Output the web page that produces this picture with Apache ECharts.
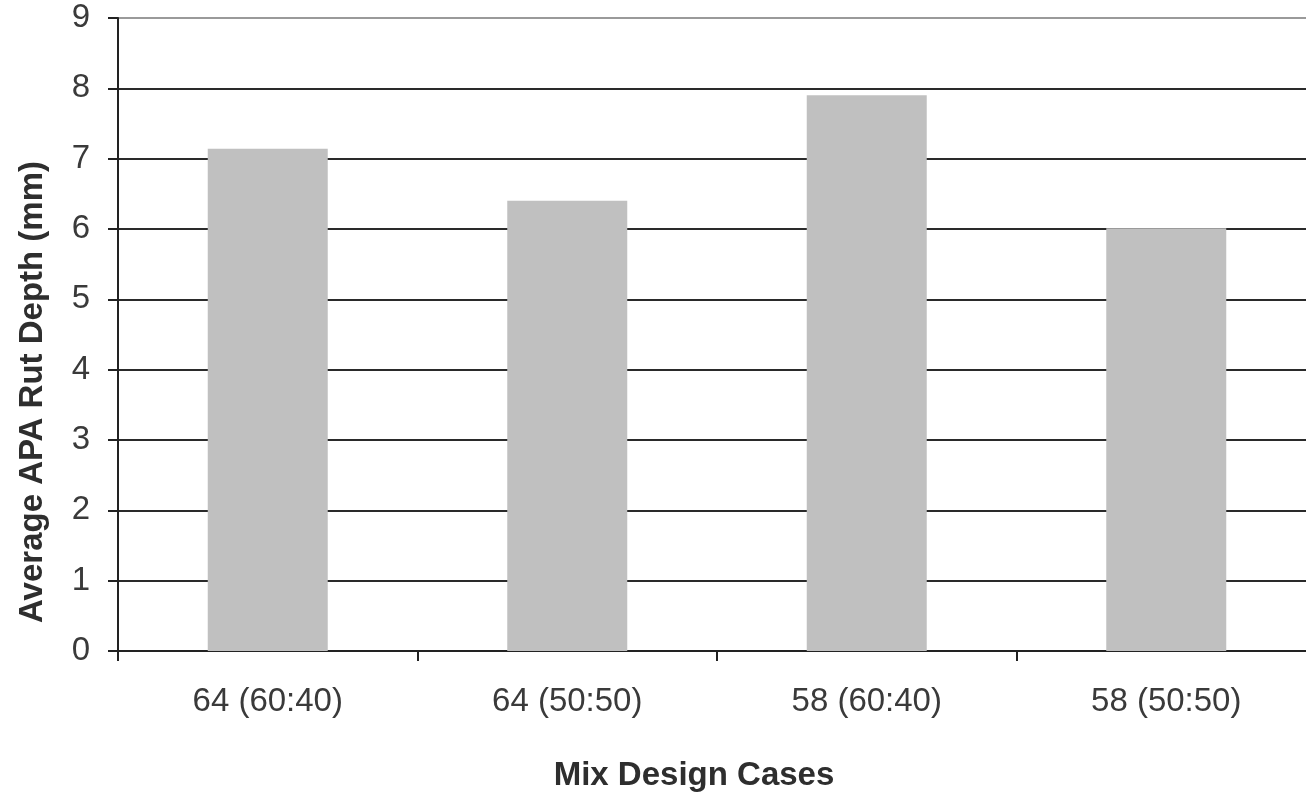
<!DOCTYPE html>
<html>
<head>
<meta charset="utf-8">
<script src="https://cdn.jsdelivr.net/npm/echarts@6/dist/echarts.min.js"></script>
<style>
  html, body { margin: 0; padding: 0; background: #ffffff; overflow: hidden; }
  /* the plot runs slightly past the right edge of the window */
  #chart { width: 1316px; height: 797px; }
</style>
</head>
<body>
<div id="chart"></div>
<script>
// Mix design cases and their average APA rut depth (mm)
const categories = ['64 (60:40)', '64 (50:50)', '58 (60:40)', '58 (50:50)'];
const rutDepth = [7.14, 6.40, 7.90, 6.01];
const yTicks = { min: 0, max: 9, interval: 1 };
const xTitle = 'Mix Design Cases';
const yTitle = 'Average APA Rut Depth (mm)';

const font = '"Liberation Sans", Arial, sans-serif';
// dark grid lines, lighter line along the top of the plot
const gridColors = ['#2a2a2a', '#2a2a2a', '#2a2a2a', '#2a2a2a', '#2a2a2a',
                    '#2a2a2a', '#2a2a2a', '#2a2a2a', '#2a2a2a', '#9a9a9a'];

const chart = echarts.init(document.getElementById('chart'), null, { renderer: 'canvas' });
chart.setOption({
  animation: false,
  backgroundColor: '#ffffff',
  grid: { left: 118, top: 18, right: 0, bottom: 146, containLabel: false },
  graphic: [
    {
      type: 'text',
      x: 33, y: 392,
      rotation: Math.PI / 2,
      style: {
        text: yTitle,
        fontFamily: font, fontSize: 33, fontWeight: 'bold', fill: '#2e2e2e',
        align: 'center', verticalAlign: 'middle'
      }
    },
    {
      type: 'text',
      x: 694, y: 776,
      style: {
        text: xTitle,
        fontFamily: font, fontSize: 33, fontWeight: 'bold', fill: '#2e2e2e',
        align: 'center', verticalAlign: 'middle'
      }
    }
  ],
  xAxis: {
    type: 'category',
    data: categories,
    axisLine: { lineStyle: { color: '#222', width: 2 } },
    axisTick: { show: true, inside: false, length: 10, alignWithLabel: false, lineStyle: { color: '#222', width: 2 } },
    axisLabel: { fontFamily: font, fontSize: 33, color: '#3a3a3a', margin: 34 },
    splitLine: { show: false }
  },
  yAxis: {
    type: 'value',
    min: yTicks.min,
    max: yTicks.max,
    interval: yTicks.interval,
    axisLine: { show: true, lineStyle: { color: '#222', width: 2 } },
    axisTick: { show: true, inside: false, length: 10, lineStyle: { color: '#222', width: 2 } },
    axisLabel: { fontFamily: font, fontSize: 33, color: '#3a3a3a', margin: 28 },
    splitLine: { show: true, lineStyle: { color: gridColors, width: 2 } }
  },
  series: [{
    type: 'bar',
    data: rutDepth,
    barWidth: 120,
    itemStyle: { color: '#c0c0c0' },
    z: 1
  }]
});
</script>
</body>
</html>
